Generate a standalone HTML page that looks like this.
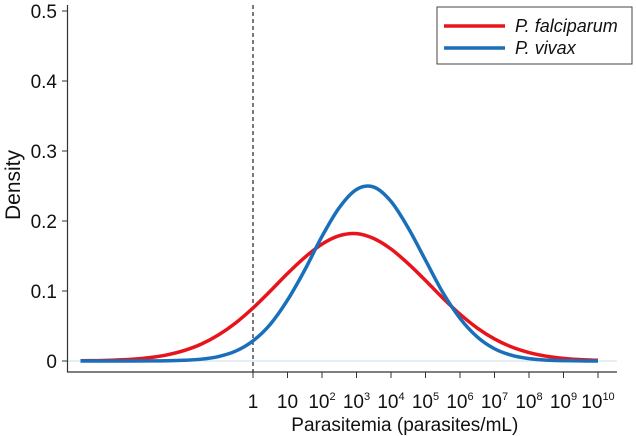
<!DOCTYPE html>
<html><head><meta charset="utf-8"><style>
html,body{margin:0;padding:0;background:#fff;}
svg{display:block;font-family:"Liberation Sans",Arial,sans-serif;}
</style></head><body>
<svg id="chart" width="636" height="436"></svg>
<script>
const logX = [-5,-4.5,-4,-3.5,-3,-2.5,-2,-1.5,-1,-0.5,0,0.5,1,1.5,2,2.5,3,3.5,4,4.5,5,5.5,6,6.5,7,7.5,8,8.5,9,9.5,10];
const falciparum = [0.0003,0.0006,0.0013,0.0025,0.0048,0.0087,0.0149,0.0241,0.0373,0.0545,0.0757,0.0998,0.125,0.148,0.167,0.179,0.182,0.175,0.160,0.139,0.115,0.090,0.0668,0.0471,0.0315,0.0200,0.0121,0.0069,0.0038,0.0019,0.0010];
const vivax = [0,0,0,0,0.0001,0.0003,0.001,0.0026,0.0064,0.0142,0.0288,0.0524,0.087,0.130,0.178,0.219,0.245,0.2485,0.228,0.190,0.144,0.098,0.061,0.0344,0.0175,0.0081,0.0034,0.0013,0.0005,0.0001,0];
const yTicks = [0,0.1,0.2,0.3,0.4,0.5];
const xTickExp = [0,1,2,3,4,5,6,7,8,9,10];

const NS="http://www.w3.org/2000/svg";
const svg=document.getElementById('chart');
const X0=253, DEC=34.5, Y0=361, YS=700;
const sx=v=>X0+v*DEC, sy=v=>Y0-v*YS;
function mk(t,a){const e=document.createElementNS(NS,t);for(const k in a)e.setAttribute(k,a[k]);svg.appendChild(e);return e;}

let bl=mk('line',{x1:67,x2:617,y1:sy(0),y2:sy(0),stroke:'#dcecf4','stroke-width':1.5});


let ya=mk('line',{x1:67.5,x2:67.5,y1:5,y2:372,stroke:'#333','stroke-width':1.2});


let xa=mk('line',{x1:67,x2:617,y1:372,y2:372,stroke:'#333','stroke-width':1.2});



yTicks.forEach(v=>{
  const y=sy(v);
  let t=mk('line',{x1:62,x2:67,y1:y,y2:y,stroke:'#333','stroke-width':1});
  
  
  let l=mk('text',{x:57,y:y+7,'text-anchor':'end','font-size':19,fill:'#111'});
  l.textContent=v===0?'0':v.toFixed(1);
  
  
});
xTickExp.forEach(e=>{
  const x=sx(e);
  let t=mk('line',{x1:x,x2:x,y1:372,y2:378,stroke:'#333','stroke-width':1});
  
  
  let l=mk('text',{x:x,y:408,'text-anchor':'middle','font-size':19,fill:'#111'});
  if(e===0)l.textContent='1';else if(e===1)l.textContent='10';
  else{l.textContent='10';const s=document.createElementNS(NS,'tspan');s.setAttribute('dy','-8');s.setAttribute('font-size','11');s.textContent=e;l.appendChild(s);}
  
  
});
let dl=mk('line',{x1:sx(0),x2:sx(0),y1:5,y2:372,stroke:'#222','stroke-width':1.2,'stroke-dasharray':'4,3'});



function path(vals){
  const p=logX.map((x,i)=>[sx(x),sy(vals[i])]);
  let d='M'+p[0][0]+','+p[0][1];
  for(let i=0;i<p.length-1;i++){
    const a=p[Math.max(i-1,0)],b=p[i],c=p[i+1],e=p[Math.min(i+2,p.length-1)];
    const c1=[b[0]+(c[0]-a[0])/6,b[1]+(c[1]-a[1])/6],c2=[c[0]-(e[0]-b[0])/6,c[1]-(e[1]-b[1])/6];
    d+=` C${c1[0]},${c1[1]} ${c2[0]},${c2[1]} ${c[0]},${c[1]}`;
  }
  return d;
}
let rp=mk('path',{d:path(falciparum),fill:'none',stroke:'#e8141b','stroke-width':3.5});


let bp=mk('path',{d:path(vivax),fill:'none',stroke:'#1a6fba','stroke-width':3.5});



let yt=mk('text',{x:0,y:0,transform:'translate(20,185) rotate(-90)','text-anchor':'middle','font-size':21,fill:'#111'});
yt.textContent='Density';


let xt=mk('text',{x:sx(4.4),y:431,'text-anchor':'middle','font-size':19,fill:'#111'});
xt.textContent='Parasitemia (parasites/mL)';



let lb=mk('rect',{x:437,y:7,width:195,height:57,fill:'#fff',stroke:'#444','stroke-width':1});


[['P. falciparum','#e8141b',26,'legend-entry-falciparum'],['P. vivax','#1a6fba',48,'legend-entry-vivax']].forEach(([n,c,y,dn])=>{
  let l=mk('line',{x1:444,x2:505,y1:y,y2:y,stroke:c,'stroke-width':3.5});
  
  
  let t=mk('text',{x:515,y:y+6,'font-size':18,'font-style':'italic',fill:'#111'});
  t.textContent=n;
  
  
});
</script>
</body></html>
